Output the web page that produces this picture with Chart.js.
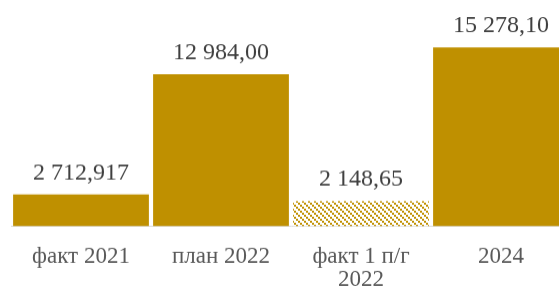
<!DOCTYPE html>
<html>
<head>
<meta charset="utf-8">
<script src="https://cdn.jsdelivr.net/npm/chart.js@4/dist/chart.umd.min.js"></script>
<style>
  html, body { margin: 0; padding: 0; background: #fff; overflow: hidden; }
  #wrap { width: 580px; height: 309.5px; position: relative; }
</style>
</head>
<body>
<div id="wrap"><canvas id="chart"></canvas></div>
<script>
const labels = ["факт 2021", "план 2022", ["факт 1 п/г", "2022"], "2024"];
const values = [2712.917, 12984.00, 2148.65, 15278.10];
const valueTexts = ["2 712,917", "12 984,00", "2 148,65", "15 278,10"];

const GOLD = "#bf9000";

// diagonal hatch for the half-year bar
const makeHatch = () => {
    const c = document.createElement("canvas");
    c.width = 6; c.height = 6;
    const g = c.getContext("2d");
    g.fillStyle = "#fff";
    g.fillRect(0, 0, 6, 6);
    g.fillStyle = GOLD;
    for (let i = 0; i < 6; i += 2) {
        g.fillRect(i, i, 2, 2);
    }
    return g.createPattern(c, "repeat");
}

const hatch = makeHatch();
const colors = [GOLD, GOLD, hatch, GOLD];

const valueLabels = {
    id: "valueLabels",
    afterDatasetsDraw(chart) {
        const ctx = chart.ctx;
        const meta = chart.getDatasetMeta(0);
        ctx.save();
        ctx.font = "24px 'Liberation Serif'";
        ctx.fillStyle = "#404040";
        ctx.textAlign = "center";
        ctx.textBaseline = "alphabetic";
        meta.data.forEach((bar, i) => {
            ctx.fillText(valueTexts[i], bar.x, bar.y - 15);
        });
        ctx.restore();
    }
}

new Chart(document.getElementById("chart").getContext("2d"), {
    type: "bar",
    data: {
        labels: labels,
        datasets: [{
            data: values,
            backgroundColor: colors,
            borderWidth: 0,
            barPercentage: 0.97,
            categoryPercentage: 1
        }]
    },
    options: {
        responsive: true,
        maintainAspectRatio: false,
        animation: false,
        events: [],
        layout: { padding: { left: 11, right: 9, top: 15.6, bottom: 0 } },
        plugins: { legend: { display: false }, tooltip: { enabled: false } },
        scales: {
            y: { display: false, min: 0, max: 18000 },
            x: {
                grid: { display: false, drawTicks: false },
                border: { color: "#d9d9d9", width: 1 },
                ticks: {
                    color: "#595959",
                    font: { family: "'Liberation Serif'", size: 23, lineHeight: 1.0 },
                    padding: 19,
                    maxRotation: 0
                }
            }
        }
    },
    plugins: [valueLabels]
});
</script>
</body>
</html>
